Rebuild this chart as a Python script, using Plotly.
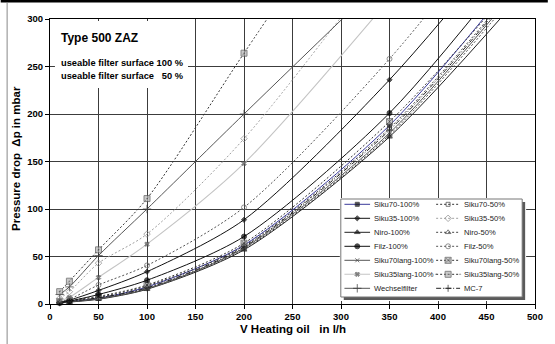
import plotly.graph_objects as go

# ---------------- data ----------------
flow = [10, 20, 50, 100, 200, 350]
flow_ext = [10, 20, 50, 100, 200, 350, 500]

siku70_100 = [1.2, 2.5, 6, 18, 62, 188, 367]
siku70_50 = [1.5, 3, 7, 19, 61, 185, 359]
siku35_100 = [1.5, 4, 14.3, 34, 88.7, 236, 417]
siku35_50 = [6, 13, 43, 73.6, 174, 369]
niro_100 = [1, 2, 5, 15.5, 57, 176, 342]
niro_50 = [1.2, 2.5, 6, 16.5, 58, 178, 351]
filz_100 = [1.2, 3, 10, 25, 71, 201, 384]
filz_50 = [2, 5, 20, 40.6, 101.7, 258, 449]
siku70lang_100 = [1, 2.2, 5.5, 16, 59, 180, 355]
siku70lang_50 = [2.5, 4, 8, 20, 64, 192, 361]
siku35lang_100 = [3, 7, 28, 63, 148, 321]
siku35lang_50 = [13, 24, 57, 111, 264, 490]
wechselfilter = [10, 18, 51, 100, 200, 348]
mc7 = [1.3, 2.8, 6.5, 17, 60, 183, 357]

x_ticks = [0, 50, 100, 150, 200, 250, 300, 350, 400, 450, 500]
y_ticks = [0, 50, 100, 150, 200, 250, 300]

# ---------------- styles ----------------
FONT = "Liberation Sans, Arial, sans-serif"
D50 = "2px,2px"
styles = {
    "Siku70-100%": dict(lc="#3a3a9a", lw=1, dash="solid", sym="square", ms=4, mc="#111", mlc="#111"),
    "Siku70-50%": dict(lc="#333", lw=1, dash=D50, sym="square-open", ms=4, mc="#444", mlc="#444"),
    "Siku35-100%": dict(lc="#111", lw=1, dash="solid", sym="diamond", ms=4, mc="#111", mlc="#111"),
    "Siku35-50%": dict(lc="#a0a0a0", lw=1, dash=D50, sym="diamond-open", ms=5, mc="#888", mlc="#888"),
    "Niro-100%": dict(lc="#222", lw=1, dash="solid", sym="triangle-up", ms=5, mc="#111", mlc="#111"),
    "Niro-50%": dict(lc="#444", lw=1, dash=D50, sym="triangle-up-open", ms=5, mc="#444", mlc="#444"),
    "Filz-100%": dict(lc="#111", lw=1, dash="solid", sym="circle", ms=5, mc="#000", mlc="#000"),
    "Filz-50%": dict(lc="#555", lw=1, dash=D50, sym="circle-open", ms=5, mc="#666", mlc="#666"),
    "Siku70lang-100%": dict(lc="#555", lw=1, dash="solid", sym="x-thin", ms=4, mc="#444", mlc="#444"),
    "Siku70lang-50%": dict(lc="#333", lw=1, dash=D50, sym="square-x", ms=6, mc="#b4b4b4", mlc="#555"),
    "Siku35lang-100%": dict(lc="#c4c4c4", lw=1.1, dash="solid", sym="x", ms=4, mc="#555", mlc="#555"),
    "Siku35lang-50%": dict(lc="#333", lw=1, dash=D50, sym="square-dot", ms=6, mc="#b4b4b4", mlc="#555"),
    "Wechselfilter": dict(lc="#555", lw=1, dash="solid", sym="cross-thin", ms=6, mc="#333", mlc="#333"),
    "MC-7": dict(lc="#222", lw=1, dash="5px,2px,1px,2px", sym="cross-thin", ms=5, mc="#222", mlc="#222"),
}

series = [
    ("Siku70-100%", flow_ext, siku70_100),
    ("Siku70-50%", flow_ext, siku70_50),
    ("Niro-100%", flow_ext, niro_100),
    ("Niro-50%", flow_ext, niro_50),
    ("Siku70lang-100%", flow_ext, siku70lang_100),
    ("Siku70lang-50%", flow_ext, siku70lang_50),
    ("MC-7", flow_ext, mc7),
    ("Filz-100%", flow_ext, filz_100),
    ("Filz-50%", flow_ext, filz_50),
    ("Siku35-100%", flow_ext, siku35_100),
    ("Siku35lang-100%", flow, siku35lang_100),
    ("Siku35-50%", flow, siku35_50),
    ("Wechselfilter", flow, wechselfilter),
    ("Siku35lang-50%", flow, siku35lang_50),
]

legend_rows = [
    ("Siku70-100%", "Siku70-50%"),
    ("Siku35-100%", "Siku35-50%"),
    ("Niro-100%", "Niro-50%"),
    ("Filz-100%", "Filz-50%"),
    ("Siku70lang-100%", "Siku70lang-50%"),
    ("Siku35lang-100%", "Siku35lang-50%"),
    ("Wechselfilter", "MC-7"),
]

# ---------------- geometry helpers (pixels of the 555x344 canvas) ----------------
W, H = 555, 344
PL, PR, PT, PB = 50, 542, 19, 304
XMAX, YMAX = 500, 300


def pxx(px):
    return (px - PL) / (PR - PL)


def pxy(py):
    return (PB - py) / (PB - PT)


def datx(px):
    return (px - PL) / (PR - PL) * XMAX


def daty(py):
    return (PB - py) / (PB - PT) * YMAX


fig = go.Figure()

for name, xs, ys in series:
    s = styles[name]
    sizes = [s["ms"] if (y <= YMAX and x <= XMAX) else 0 for x, y in zip(xs, ys)]
    fig.add_trace(go.Scatter(
        x=xs, y=ys, name=name, mode="lines+markers",
        line=dict(color=s["lc"], width=s["lw"], dash=s["dash"], shape="spline", smoothing=0.8),
        marker=dict(symbol=s["sym"], size=sizes, color=s["mc"], line=dict(color=s["mlc"], width=1)),
        cliponaxis=False, showlegend=False, xaxis="x", yaxis="y",
    ))

# ---------------- custom two-column legend on an inset axis ----------------
LB = dict(x0=345, x1=529, y0=199, y1=297)
SH = 3
row0, row_step = 204.3, 14
cols = [dict(x0=348.7, x1=374.7, tx=376.5), dict(x0=441.7, x1=466.0, tx=468.0)]

fig.add_trace(go.Scatter(
    x=[LB["x0"] + SH, LB["x1"] + SH, LB["x1"] + SH, LB["x0"] + SH, LB["x0"] + SH],
    y=[LB["y0"] + SH, LB["y0"] + SH, LB["y1"] + SH, LB["y1"] + SH, LB["y0"] + SH],
    fill="toself", fillcolor="#5a5a5a", line=dict(width=0), mode="lines",
    hoverinfo="skip", showlegend=False, xaxis="x2", yaxis="y2"))
fig.add_trace(go.Scatter(
    x=[LB["x0"], LB["x1"], LB["x1"], LB["x0"], LB["x0"]],
    y=[LB["y0"], LB["y0"], LB["y1"], LB["y1"], LB["y0"]],
    fill="toself", fillcolor="white", line=dict(width=1, color="#777"), mode="lines",
    hoverinfo="skip", showlegend=False, xaxis="x2", yaxis="y2"))

annotations = []
for r, pair in enumerate(legend_rows):
    ry = row0 + r * row_step
    for c, name in enumerate(pair):
        s = styles[name]
        col = cols[c]
        xm = (col["x0"] + col["x1"]) / 2
        fig.add_trace(go.Scatter(
            x=[col["x0"], xm, col["x1"]], y=[ry, ry, ry], mode="lines+markers",
            line=dict(color=s["lc"], width=s["lw"], dash=s["dash"]),
            marker=dict(symbol=s["sym"], size=[0, min(s["ms"], 6), 0], color=s["mc"],
                        line=dict(color=s["mlc"], width=1)),
            hoverinfo="skip", showlegend=False, xaxis="x2", yaxis="y2"))
        annotations.append(dict(
            text=name, xref="x2", yref="y2", x=col["tx"], y=ry, xanchor="left", yanchor="middle",
            showarrow=False, font=dict(family=FONT, size=7.6, color="#222")))

# ---------------- texts ----------------
annotations += [
    dict(text="Type 500 ZAZ", xref="paper", yref="paper", x=pxx(59), y=pxy(38),
         xanchor="left", yanchor="middle", showarrow=False,
         font=dict(family=FONT, size=12, color="#000", weight="bold")),
    dict(text="useable filter surface 100 %", xref="paper", yref="paper", x=pxx(59), y=pxy(62.7),
         xanchor="left", yanchor="middle", showarrow=False,
         font=dict(family=FONT, size=9.3, color="#000", weight="bold")),
    dict(text="useable filter surface \u00a0\u00a050 %", xref="paper", yref="paper", x=pxx(59), y=pxy(75.7),
         xanchor="left", yanchor="middle", showarrow=False,
         font=dict(family=FONT, size=9.3, color="#000", weight="bold")),
    dict(text="Pressure drop\u00a0\u00a0\u0394p in mbar", xref="paper", yref="paper", x=pxx(15.5), y=pxy(158),
         xanchor="center", yanchor="middle", textangle=-90, showarrow=False,
         font=dict(family=FONT, size=11.5, color="#000", weight="bold")),
    dict(text="V Heating oil \u00a0\u00a0in l/h", xref="paper", yref="paper", x=pxx(297), y=pxy(329),
         xanchor="center", yanchor="middle", showarrow=False,
         font=dict(family=FONT, size=11.5, color="#000", weight="bold")),
]

shapes = [
    dict(type="rect", xref="x", yref="y", x0=datx(55), x1=datx(190), y0=daty(88), y1=daty(21),
         fillcolor="white", line=dict(width=0), layer="between"),
    dict(type="rect", xref="paper", yref="paper", x0=pxx(0), x1=pxx(W), y0=pxy(0), y1=pxy(2.6),
         fillcolor="#000", line=dict(width=0), layer="above"),
    dict(type="line", xref="paper", yref="paper", x0=pxx(6.5), x1=pxx(6.5), y0=pxy(2.6), y1=pxy(H),
         line=dict(color="#888", width=1), layer="above"),
]

axis_common = dict(
    showline=True, linecolor="#000", linewidth=1, mirror=True,
    showgrid=True, gridcolor="#3c3c3c", gridwidth=1, zeroline=False,
    ticks="outside", ticklen=4, tickcolor="#000",
    tickfont=dict(family=FONT, size=9.5, color="#000", weight="bold"),
)

fig.update_layout(
    width=W, height=H,
    margin=dict(l=PL, r=W - PR, t=PT, b=H - PB, pad=0),
    paper_bgcolor="white", plot_bgcolor="white",
    showlegend=False,
    xaxis=dict(range=[0, XMAX], tickvals=x_ticks, **axis_common),
    yaxis=dict(range=[0, YMAX], tickvals=y_ticks, **axis_common),
    xaxis2=dict(domain=[pxx(LB["x0"] - 1), pxx(LB["x1"] + SH + 1)],
                range=[LB["x0"] - 1, LB["x1"] + SH + 1], anchor="y2",
                visible=False, showgrid=False, zeroline=False, fixedrange=True),
    yaxis2=dict(domain=[pxy(LB["y1"] + SH + 1), pxy(LB["y0"] - 1)],
                range=[LB["y1"] + SH + 1, LB["y0"] - 1], anchor="x2",
                visible=False, showgrid=False, zeroline=False, fixedrange=True),
    annotations=annotations,
    shapes=shapes,
    font=dict(family=FONT),
)

fig.write_html("out.html", config={"displayModeBar": False},
               post_script="document.body.style.margin='0';document.body.style.overflow='hidden';")
